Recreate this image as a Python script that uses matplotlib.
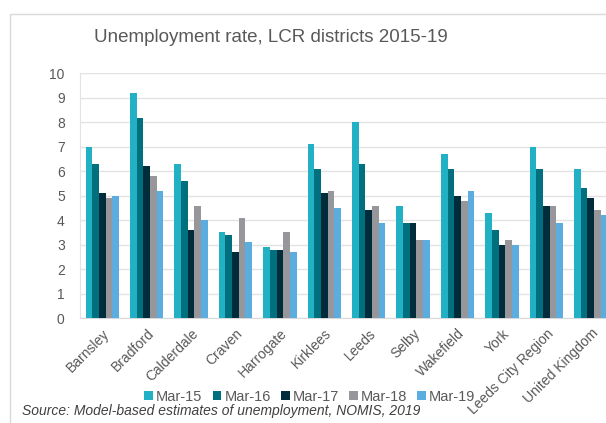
import numpy as np
import matplotlib
matplotlib.use("Agg")
import matplotlib.pyplot as plt
from matplotlib.patches import Rectangle

plt.rcParams['font.family'] = ['Liberation Sans', 'DejaVu Sans']

# Data
districts = ["Barnsley", "Bradford", "Calderdale", "Craven", "Harrogate", "Kirklees",
             "Leeds", "Selby", "Wakefield", "York", "Leeds City Region", "United Kingdom"]
periods = ["Mar-15", "Mar-16", "Mar-17", "Mar-18", "Mar-19"]
mar15 = [7.0, 9.2, 6.3, 3.5, 2.9, 7.1, 8.0, 4.6, 6.7, 4.3, 7.0, 6.1]
mar16 = [6.3, 8.2, 5.6, 3.4, 2.8, 6.1, 6.3, 3.9, 6.1, 3.6, 6.1, 5.3]
mar17 = [5.1, 6.2, 3.6, 2.7, 2.8, 5.1, 4.4, 3.9, 5.0, 3.0, 4.6, 4.9]
mar18 = [4.9, 5.8, 4.6, 4.1, 3.5, 5.2, 4.6, 3.2, 4.8, 3.2, 4.6, 4.4]
mar19 = [5.0, 5.2, 4.0, 3.1, 2.7, 4.5, 3.9, 3.2, 5.2, 3.0, 3.9, 4.2]
series = [mar15, mar16, mar17, mar18, mar19]
colors = ["#22b1c4", "#00707f", "#012c3b", "#97969b", "#5badE0"]

fig = plt.figure(figsize=(6.06, 4.23), dpi=100)
# light frame round the chart
fig.patches.append(Rectangle((10 / 606, -0.05), 1.0, (423 - 14) / 423 + 0.05,
                             transform=fig.transFigure, fill=False,
                             edgecolor="#d9d9d9", linewidth=1.0))

ax = fig.add_axes([80 / 606, 105 / 423, 533 / 606, 244.5 / 423])

x = np.arange(len(districts))
w = 0.15
for i, (vals, col, lab) in enumerate(zip(series, colors, periods)):
    ax.bar(x + (i - 2) * w, vals, width=w, color=col, label=lab,
           linewidth=0, zorder=3)

ax.set_xlim(-0.5, len(districts) - 0.5)
ax.set_ylim(0, 10)
ax.set_yticks(range(0, 11))
ax.yaxis.grid(True, color="#e3e3e3", linewidth=1.0, zorder=0)
for s in ["top", "right"]:
    ax.spines[s].set_visible(False)
ax.spines["left"].set_color("#e3e3e3")
ax.spines["bottom"].set_color("#d9d9d9")
ax.tick_params(axis="both", length=0, colors="#595959", labelsize=10)
ax.tick_params(axis="y", pad=11)
ax.set_xticks(x)
ax.set_xticklabels(districts, rotation=45, ha="right", rotation_mode="anchor")
ax.tick_params(axis="x", pad=6)

fig.text(271 / 606, 1 - 38 / 423, "Unemployment rate, LCR districts 2015-19",
         ha="center", va="center", fontsize=13.5, color="#595959")

fig.legend(loc="center", bbox_to_anchor=(310 / 606, 1 - 397 / 423), ncol=5,
           frameon=False, fontsize=10.5, handlelength=0.6, handleheight=0.6,
           handletextpad=0.2, columnspacing=0.7, labelcolor="#595959")

fig.text(22 / 606, 1 - 411 / 423,
         "Source: Model-based estimates of unemployment, NOMIS, 2019",
         ha="left", va="center", fontsize=10, style="italic", color="#404040")

fig.savefig("out.png", dpi=100)
